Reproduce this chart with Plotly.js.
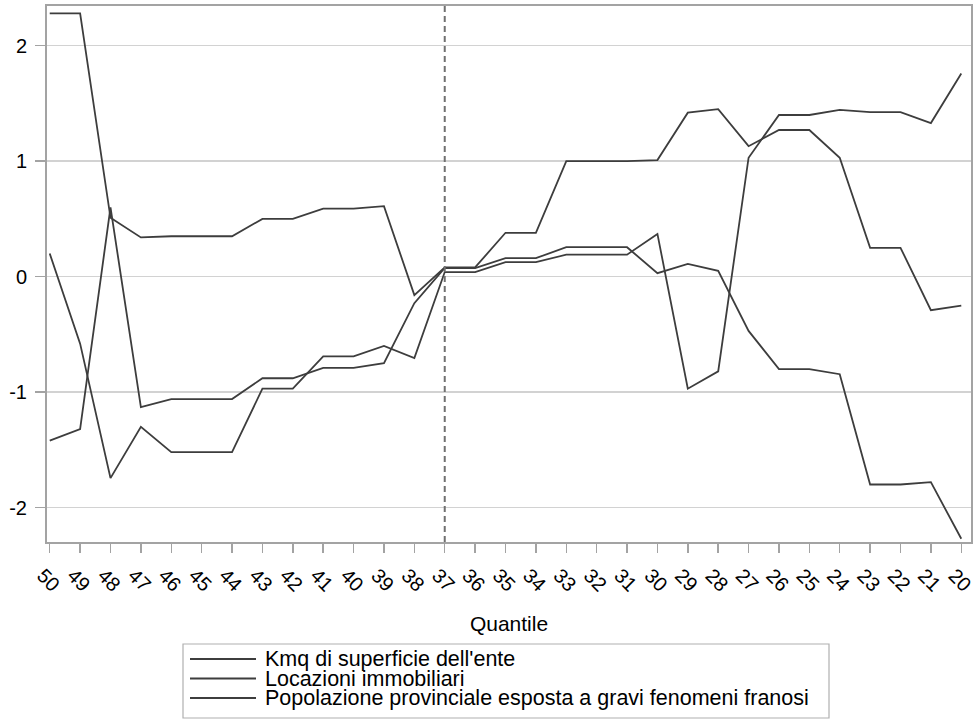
<!DOCTYPE html>
<html>
<head>
<meta charset="utf-8">
<script src="https://cdn.plot.ly/plotly-3.0.1.min.js"></script>
<style>
  html, body { margin: 0; padding: 0; background: #ffffff; }
  #chart { width: 976px; height: 724px; }
</style>
</head>
<body>
<div id="chart"></div>
<script>
// ---- data ----
const quantiles = ['50','49','48','47','46','45','44','43','42','41','40','39','38','37','36','35','34','33','32','31','30','29','28','27','26','25','24','23','22','21','20'];

const kmqSuperficie = [2.28, 2.28, 0.51, 0.34, 0.35, 0.35, 0.35, 0.50, 0.50, 0.59, 0.59, 0.61, -0.16, 0.08, 0.08, 0.38, 0.38, 1.00, 1.00, 1.00, 1.01, 1.42, 1.45, 1.13, 1.27, 1.27, 1.03, 0.25, 0.25, -0.29, -0.25];

const locazioniImmobiliari = [-1.42, -1.32, 0.60, -1.13, -1.06, -1.06, -1.06, -0.88, -0.88, -0.79, -0.79, -0.75, -0.23, 0.075, 0.075, 0.16, 0.16, 0.255, 0.255, 0.255, 0.03, 0.11, 0.05, -0.47, -0.80, -0.80, -0.845, -1.80, -1.80, -1.78, -2.27];

const popolazioneFranosi = [0.20, -0.58, -1.745, -1.30, -1.52, -1.52, -1.52, -0.97, -0.97, -0.69, -0.69, -0.60, -0.705, 0.04, 0.04, 0.125, 0.125, 0.19, 0.19, 0.19, 0.37, -0.97, -0.82, 1.03, 1.40, 1.40, 1.445, 1.425, 1.425, 1.33, 1.76];

const seriesNames = ["Kmq di superficie dell'ente", "Locazioni immobiliari", "Popolazione provinciale esposta a gravi fenomeni franosi"];
const seriesValues = [kmqSuperficie, locazioniImmobiliari, popolazioneFranosi];

const yTickVals = [-2, -1, 0, 1, 2];
const yTickText = ['-2', '-1', '0', '1', '2'];
const referenceQuantile = '37';
const xTitle = 'Quantile';

// ---- style / layout ----
const W = 976, H = 724;
const M = {l: 47, r: 5, t: 6, b: 182};
const plotW = W - M.l - M.r, plotH = H - M.t - M.b;
const px2x = p => (p - M.l) / plotW;
const px2y = p => (H - M.b - p) / plotH;

const lineColor = '#3d3d3d';
const frameColor = '#a3a3a3';
const font = 'Liberation Sans, Arial, sans-serif';

const traces = seriesValues.map((vals, i) => ({
  type: 'scatter',
  mode: 'lines',
  x: quantiles,
  y: vals,
  name: seriesNames[i],
  line: {color: lineColor, width: 1.8},
  showlegend: false,
  hoverinfo: 'x+y+name'
}));

const shapes = [
  {
    type: 'line', xref: 'x', yref: 'paper',
    x0: quantiles.indexOf(referenceQuantile), x1: quantiles.indexOf(referenceQuantile),
    y0: 0, y1: 1,
    line: {color: '#707070', width: 2, dash: '6px,4px'}
  },
  // legend box
  {
    type: 'rect', xref: 'paper', yref: 'paper',
    x0: px2x(183), x1: px2x(829), y0: px2y(644), y1: px2y(718),
    line: {color: '#b0b0b0', width: 1.2}, fillcolor: 'rgba(0,0,0,0)'
  }
];
const annotations = [];
const rowY = [659, 678.5, 698];
seriesNames.forEach((nm, i) => {
  shapes.push({
    type: 'line', xref: 'paper', yref: 'paper',
    x0: px2x(190), x1: px2x(256), y0: px2y(rowY[i]), y1: px2y(rowY[i]),
    line: {color: lineColor, width: 1.8}
  });
  annotations.push({
    xref: 'paper', yref: 'paper', x: px2x(263), y: px2y(rowY[i]),
    xanchor: 'left', yanchor: 'middle', showarrow: false,
    text: nm, font: {family: font, size: 21.5, color: '#000'}
  });
});

const layout = {
  width: W, height: H,
  margin: M,
  paper_bgcolor: '#ffffff',
  plot_bgcolor: '#ffffff',
  font: {family: font, color: '#000'},
  showlegend: false,
  xaxis: {
    type: 'category',
    range: [-0.09, quantiles.length - 1 + 0.32],
    showline: true, mirror: true, linecolor: frameColor, linewidth: 2,
    ticks: 'outside', ticklen: 9, tickwidth: 1.5, tickcolor: frameColor,
    tickangle: 45,
    ticklabelshift: -7,
    ticklabelstandoff: 3,
    tickfont: {family: font, size: 20, color: '#000'},
    showgrid: false, zeroline: false,
    title: {text: xTitle, font: {family: font, size: 21, color: '#000'}, standoff: 22},
    automargin: false
  },
  yaxis: {
    range: [-2.298, 2.344],
    tickvals: yTickVals, ticktext: yTickText,
    showline: true, mirror: true, linecolor: frameColor, linewidth: 2,
    ticks: 'outside', ticklen: 10, tickwidth: 1.5, tickcolor: frameColor,
    ticklabelstandoff: 4,
    tickfont: {family: font, size: 20, color: '#000'},
    showgrid: true, gridcolor: '#d2d2d2', gridwidth: 1.5,
    zeroline: false,
    automargin: false
  },
  shapes: shapes,
  annotations: annotations
};

Plotly.newPlot('chart', traces, layout, {staticPlot: true, displayModeBar: false});
</script>
</body>
</html>
